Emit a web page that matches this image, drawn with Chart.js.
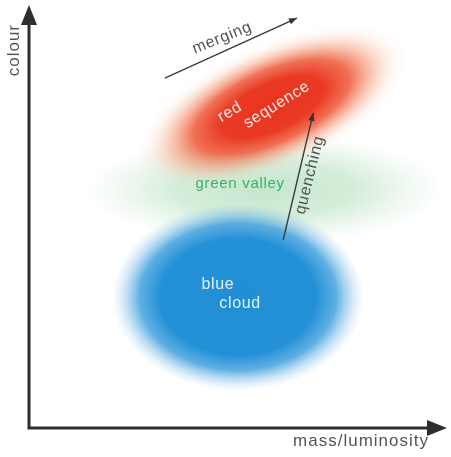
<!DOCTYPE html>
<html>
<head>
<meta charset="utf-8">
<script src="https://cdn.jsdelivr.net/npm/chart.js@4/dist/chart.umd.min.js"></script>
<style>
  html, body { margin: 0; padding: 0; background: #ffffff; }
  #wrap { width: 451px; height: 457px; }
</style>
</head>
<body>
<div id="wrap"><canvas id="c" width="451" height="457"></canvas></div>
<script>
// ---- data (schematic positions on a 0-100 mass/luminosity vs colour plane) ----
const regionNames   = ['green valley', 'blue cloud', 'red sequence'];
const regionMass    = [56.5, 50.0, 58.1];
const regionColour  = [56.5, 31.0, 75.9];

const arrowNames      = ['merging', 'quenching'];
const arrowFromMass   = [32.5, 60.8];
const arrowFromColour = [82.7, 44.4];
const arrowToMass     = [64.1, 68.0];
const arrowToColour   = [96.9, 74.5];

const axisTitles = ['mass/luminosity', 'colour'];

// label anchors (data coordinates) for the region / process names
const labelText   = ['green valley', 'blue', 'cloud', 'red', 'sequence', 'merging', 'quenching'];
const labelMass   = [50.5, 45.2, 50.5, 48.1, 59.3, 46.2, 67.2];
const labelColour = [57.7, 33.8, 29.3, 74.7, 76.4, 92.2, 59.8];

// ---- styles ----
const regionStyle = {
  'green valley': { rx: 178, ry: 55, rot: 0, stops: [[0,'rgba(125,200,145,0.45)'],[0.5,'rgba(135,205,150,0.36)'],[0.78,'rgba(160,215,170,0.18)'],[1,'rgba(170,220,180,0)']] },
  'blue cloud':   { rx: 126, ry: 94, rot: 0, stops: [[0,'rgba(33,143,213,1)'],[0.62,'rgba(36,145,215,1)'],[0.78,'rgba(55,155,220,0.8)'],[0.9,'rgba(110,180,230,0.35)'],[1,'rgba(160,205,240,0)']] },
  'red sequence': { rx: 145, ry: 62, rot: -24 * Math.PI / 180, stops: [[0,'rgba(232,52,32,1)'],[0.38,'rgba(234,58,36,1)'],[0.58,'rgba(238,88,56,0.85)'],[0.76,'rgba(244,148,110,0.45)'],[0.9,'rgba(248,200,175,0.15)'],[1,'rgba(250,220,200,0)']] }
};
const labelStyle = [
  { color: '#3cb06a', size: 15, rot: 0 },
  { color: '#e2f0fb', size: 16, rot: 0 },
  { color: '#e2f0fb', size: 16, rot: 0 },
  { color: '#fde9e2', size: 16, rot: -30 },
  { color: '#fde9e2', size: 16, rot: -32 },
  { color: '#555555', size: 16, rot: -22 },
  { color: '#555555', size: 16, rot: -76 }
];
const FONT = '"Liberation Sans", Arial, sans-serif';

function ellipseBlob(ctx, cx, cy, s) {
  ctx.save();
  ctx.translate(cx, cy);
  ctx.rotate(s.rot);
  ctx.scale(s.rx, s.ry);
  const g = ctx.createRadialGradient(0, 0, 0, 0, 0, 1);
  s.stops.forEach(([o, c]) => g.addColorStop(o, c));
  ctx.fillStyle = g;
  ctx.beginPath();
  ctx.arc(0, 0, 1, 0, Math.PI * 2);
  ctx.fill();
  ctx.restore();
}

function arrowHead(ctx, x0, y0, x1, y1, len, half, color) {
  const a = Math.atan2(y1 - y0, x1 - x0);
  ctx.save();
  ctx.translate(x1, y1);
  ctx.rotate(a);
  ctx.fillStyle = color;
  ctx.beginPath();
  ctx.moveTo(0, 0);
  ctx.lineTo(-len, -half);
  ctx.lineTo(-len, half);
  ctx.closePath();
  ctx.fill();
  ctx.restore();
}

const schematic = {
  id: 'schematic',
  beforeDatasetsDraw(chart) {
    const { ctx, scales: { x, y } } = chart;
    regionNames.forEach((n, i) => {
      ellipseBlob(ctx, x.getPixelForValue(regionMass[i]), y.getPixelForValue(regionColour[i]), regionStyle[n]);
    });
  },
  afterDatasetsDraw(chart) {
    const { ctx, scales: { x, y } } = chart;
    arrowNames.forEach((n, i) => {
      arrowHead(ctx,
        x.getPixelForValue(arrowFromMass[i]), y.getPixelForValue(arrowFromColour[i]),
        x.getPixelForValue(arrowToMass[i]), y.getPixelForValue(arrowToColour[i]),
        8, 3.2, '#333333');
    });
    const x0 = x.getPixelForValue(0), y0 = y.getPixelForValue(0);
    const xEnd = x.getPixelForValue(100), yEnd = y.getPixelForValue(100);
    ctx.save();
    ctx.strokeStyle = '#2e2e2e';
    ctx.lineWidth = 3;
    ctx.beginPath();
    ctx.moveTo(x0, y0 + 1.5);
    ctx.lineTo(x0, yEnd + 12);
    ctx.moveTo(x0 - 1.5, y0);
    ctx.lineTo(xEnd - 12, y0);
    ctx.stroke();
    ctx.restore();
    arrowHead(ctx, x0, y0, x0, yEnd, 20, 8, '#2e2e2e');
    arrowHead(ctx, x0, y0, xEnd, y0, 20, 8, '#2e2e2e');
    ctx.save();
    ctx.fillStyle = '#555555';
    ctx.font = '17px ' + FONT;
    ctx.letterSpacing = '1px';
    ctx.textAlign = 'right';
    ctx.textBaseline = 'middle';
    ctx.fillText(axisTitles[0], 429, y0 + 13);
    ctx.translate(x0 - 15, 24);
    ctx.rotate(-Math.PI / 2);
    ctx.fillText(axisTitles[1], 0, 0);
    ctx.restore();
    labelText.forEach((t, i) => {
      const st = labelStyle[i];
      ctx.save();
      ctx.translate(x.getPixelForValue(labelMass[i]), y.getPixelForValue(labelColour[i]));
      ctx.rotate(st.rot * Math.PI / 180);
      ctx.fillStyle = st.color;
      ctx.font = st.size + 'px ' + FONT;
      ctx.letterSpacing = '0.7px';
      ctx.textAlign = 'center';
      ctx.textBaseline = 'middle';
      ctx.fillText(t, 0, 0);
      ctx.restore();
    });
  }
};

const datasets = regionNames.map((n, i) => ({
  label: n,
  data: [{ x: regionMass[i], y: regionColour[i] }],
  pointRadius: 0,
  showLine: false
}));
arrowNames.forEach((n, i) => {
  datasets.push({
    label: n,
    data: [{ x: arrowFromMass[i], y: arrowFromColour[i] }, { x: arrowToMass[i], y: arrowToColour[i] }],
    showLine: true,
    borderColor: '#3a3a3a',
    borderWidth: 1.4,
    pointRadius: 0,
    clip: false
  });
});

new Chart(document.getElementById('c'), {
  type: 'scatter',
  data: { datasets },
  options: {
    responsive: false,
    animation: false,
    devicePixelRatio: 1,
    layout: { padding: { left: 29, right: 4, top: 5, bottom: 29 } },
    plugins: { legend: { display: false }, tooltip: { enabled: false }, title: { display: false } },
    scales: {
      x: { type: 'linear', min: 0, max: 100, display: false },
      y: { type: 'linear', min: 0, max: 100, display: false }
    }
  },
  plugins: [schematic]
});
</script>
</body>
</html>
